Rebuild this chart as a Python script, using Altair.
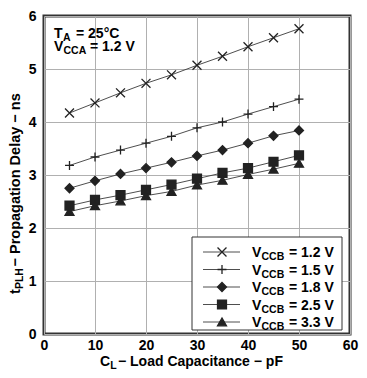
import altair as alt
import pandas as pd

# ---- data ----
cap = [5, 10, 15, 20, 25, 30, 35, 40, 45, 50]
v12 = [4.17, 4.36, 4.55, 4.73, 4.89, 5.07, 5.24, 5.42, 5.59, 5.76]
v15 = [3.18, 3.34, 3.47, 3.60, 3.73, 3.89, 4.00, 4.15, 4.29, 4.43]
v18 = [2.75, 2.89, 3.02, 3.13, 3.24, 3.36, 3.47, 3.60, 3.74, 3.84]
v25 = [2.42, 2.53, 2.62, 2.72, 2.82, 2.93, 3.04, 3.13, 3.25, 3.37]
v33 = [2.31, 2.42, 2.51, 2.61, 2.69, 2.81, 2.90, 3.01, 3.11, 3.22]
series_names = ["1.2", "1.5", "1.8", "2.5", "3.3"]
legend_text = ["= 1.2 V", "= 1.5 V", "= 1.8 V", "= 2.5 V", "= 3.3 V"]
x_ticks = [0, 10, 20, 30, 40, 50, 60]
y_ticks = [0, 1, 2, 3, 4, 5, 6]

rows = []
for name, vals in zip(series_names, [v12, v15, v18, v25, v33]):
    for c, d in zip(cap, vals):
        rows.append({"cap": c, "delay": d, "series": name})
df = pd.DataFrame(rows)

W, H = 306, 318
FONT = "Liberation Sans"
INK = "#222222"
one = pd.DataFrame({"k": [0]})

shape_scale = alt.Scale(
    domain=series_names,
    range=["M-1,-1L1,1M-1,1L1,-1", "M-1,0L1,0M0,-1L0,1", "diamond", "square", "triangle-up"],
)
fill_scale = alt.Scale(domain=series_names, range=["transparent", "transparent", INK, INK, INK])

x = alt.X("cap:Q", scale=alt.Scale(domain=[0, 60], nice=False),
          axis=alt.Axis(values=x_ticks, title=None, labelFlush=False, labelPadding=4))
y = alt.Y("delay:Q", scale=alt.Scale(domain=[0, 6], nice=False),
          axis=alt.Axis(values=y_ticks, title=None, labelFlush=False, labelPadding=8))

lines = alt.Chart(df).mark_line(color="#3a3a3a", strokeWidth=0.9).encode(x=x, y=y, detail="series:N")
points = alt.Chart(df).mark_point(size=80, filled=True, opacity=1, stroke=INK, strokeWidth=1.3).encode(
    x=x, y=y,
    shape=alt.Shape("series:N", scale=shape_scale, legend=None),
    fill=alt.Fill("series:N", scale=fill_scale, legend=None),
)


def label(text, px, py, size=14, dx=0, dy=0, angle=0):
    kw = dict(align="left", baseline="alphabetic", font=FONT, fontSize=size,
              fontWeight="bold", color="black", dx=dx, dy=dy)
    if angle:
        kw["angle"] = angle
    return alt.Chart(one).mark_text(**kw).encode(
        x=alt.value(px), y=alt.value(py), text=alt.value(text))


SUB = 10.5
annots = [
    label("T", 10, 22),
    label("A", 19, 22, SUB, dy=3),
    label("= 25°C", 32, 22),
    label("V", 10, 35),
    label("CCA", 19.5, 35, SUB, dy=3),
    label("= 1.2 V", 46, 35),
    # x title
    label("C", 56, H + 32),
    label("L", 66.3, H + 32, SUB, dy=3),
    label(" − Load Capacitance − pF", 74, H + 32),
    # y title (rotated)
    label("t", -24, 278, 14.5, angle=270),
    label("PLH", -24, 278, SUB, dx=4.9, dy=3, angle=270),
    label(" − Propagation Delay − ns", -24, 278, 14.5, dx=27.5, angle=270),
]

main = alt.layer(lines, points, *annots)

# ---- legend ----
ldf = pd.DataFrame({"series": series_names, "label": legend_text})
ly = alt.Y("series:N", scale=alt.Scale(type="point", domain=series_names, range=[236, 306], padding=0),
           axis=None)
box = alt.Chart(one).mark_rect(fill="white", stroke="#333333", strokeWidth=1).encode(
    x=alt.value(148), x2=alt.value(298), y=alt.value(221), y2=alt.value(314))
lrule = alt.Chart(ldf).mark_rule(color="#3a3a3a", strokeWidth=0.9).encode(
    x=alt.value(159), x2=alt.value(196), y=ly)
lpts = alt.Chart(ldf).mark_point(size=80, filled=True, opacity=1, stroke=INK, strokeWidth=1.3).encode(
    x=alt.value(178), y=ly,
    shape=alt.Shape("series:N", scale=shape_scale, legend=None),
    fill=alt.Fill("series:N", scale=fill_scale, legend=None),
)
tkw = dict(align="left", baseline="alphabetic", font=FONT, fontWeight="bold", color="black")
lv = alt.Chart(ldf).mark_text(fontSize=14, dy=5, **tkw).encode(x=alt.value(208), y=ly, text=alt.value("V"))
lsub = alt.Chart(ldf).mark_text(fontSize=SUB, dy=8, **tkw).encode(x=alt.value(217.5), y=ly, text=alt.value("CCB"))
llab = alt.Chart(ldf).mark_text(fontSize=14, dy=5, **tkw).encode(x=alt.value(245), y=ly, text="label:N")

legend = alt.layer(box, lrule, lpts, lv, lsub, llab)

chart = alt.layer(main, legend).resolve_scale(y="independent").properties(
    width=W, height=H,
    autosize=alt.AutoSizeParams(type="none"),
    padding={"left": 36, "top": 8, "right": 9, "bottom": 36},
).configure_view(stroke="#333333", strokeWidth=3).configure_axis(
    grid=True, gridColor="#b0b0b0", gridWidth=1, domain=False, ticks=False,
    labelFont=FONT, labelFontSize=14, labelFontWeight="bold", labelColor="black",
)

chart.save("out.html", embed_options={"renderer": "svg", "actions": False})
